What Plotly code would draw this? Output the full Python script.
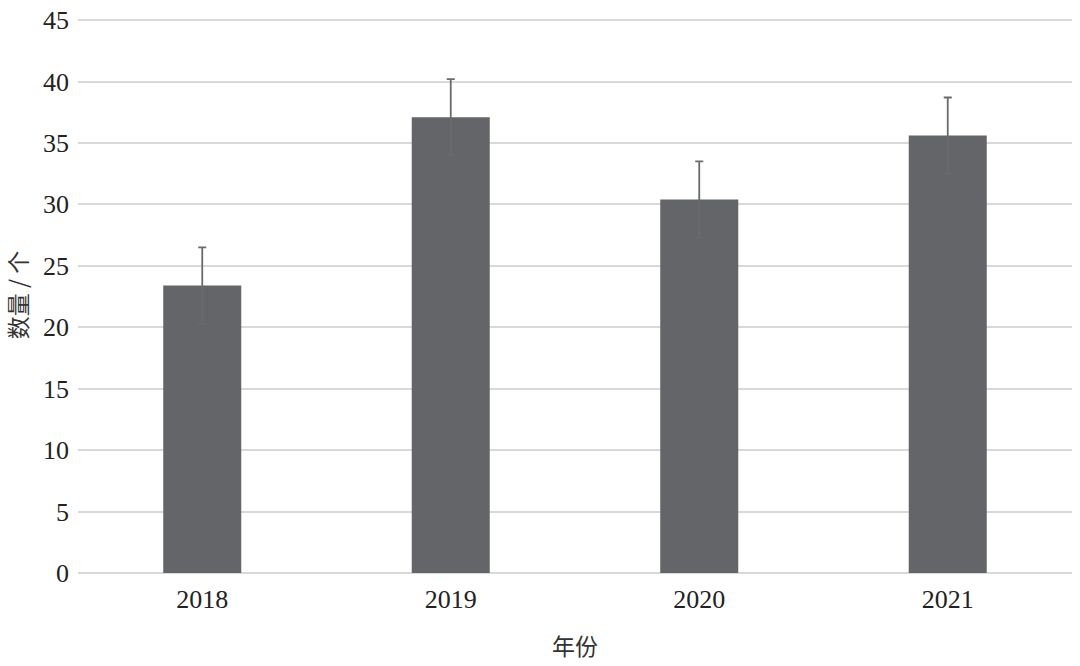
import plotly.graph_objects as go

years = ["2018", "2019", "2020", "2021"]
counts = [23.4, 37.1, 30.4, 35.6]
errors = [3.1, 3.1, 3.1, 3.1]

fig = go.Figure()
fig.add_trace(go.Bar(
    x=years, y=counts,
    marker=dict(color="#646569", line=dict(width=0)),
    error_y=dict(type="data", array=errors, visible=True,
                 color="#6a6a6a", thickness=1.8, width=4),
))

fig.update_layout(
    width=1080, height=666,
    margin=dict(l=78, r=8, t=17, b=93),
    plot_bgcolor="white", paper_bgcolor="white",
    bargap=0.686, showlegend=False,
    font=dict(family="Liberation Serif", size=26, color="#222222"),
)
fig.update_xaxes(
    title=dict(text="年份", font=dict(family="Noto Sans CJK SC", size=23, color="#333333"),
               standoff=25),
    automargin=False, showline=False, ticks="", ticklabelstandoff=8,
)
# a little headroom above 45 so its gridline is not clipped at the plot edge
fig.update_yaxes(
    title=dict(text="数量 / 个", font=dict(family="Noto Sans CJK SC", size=23, color="#333333"),
               standoff=12),
    automargin=False,
    range=[0, 45.25], dtick=5, showgrid=True, gridcolor="#d9d9d9", gridwidth=1.5,
    zeroline=True, zerolinecolor="#d9d9d9", zerolinewidth=1.5,
    showline=False, ticks="", ticklabelstandoff=8,
)

# drop the default page margin so the figure sits at the window's corner
fig.write_html("out.html", config={"displayModeBar": False},
               post_script="document.body.style.margin='0';")
